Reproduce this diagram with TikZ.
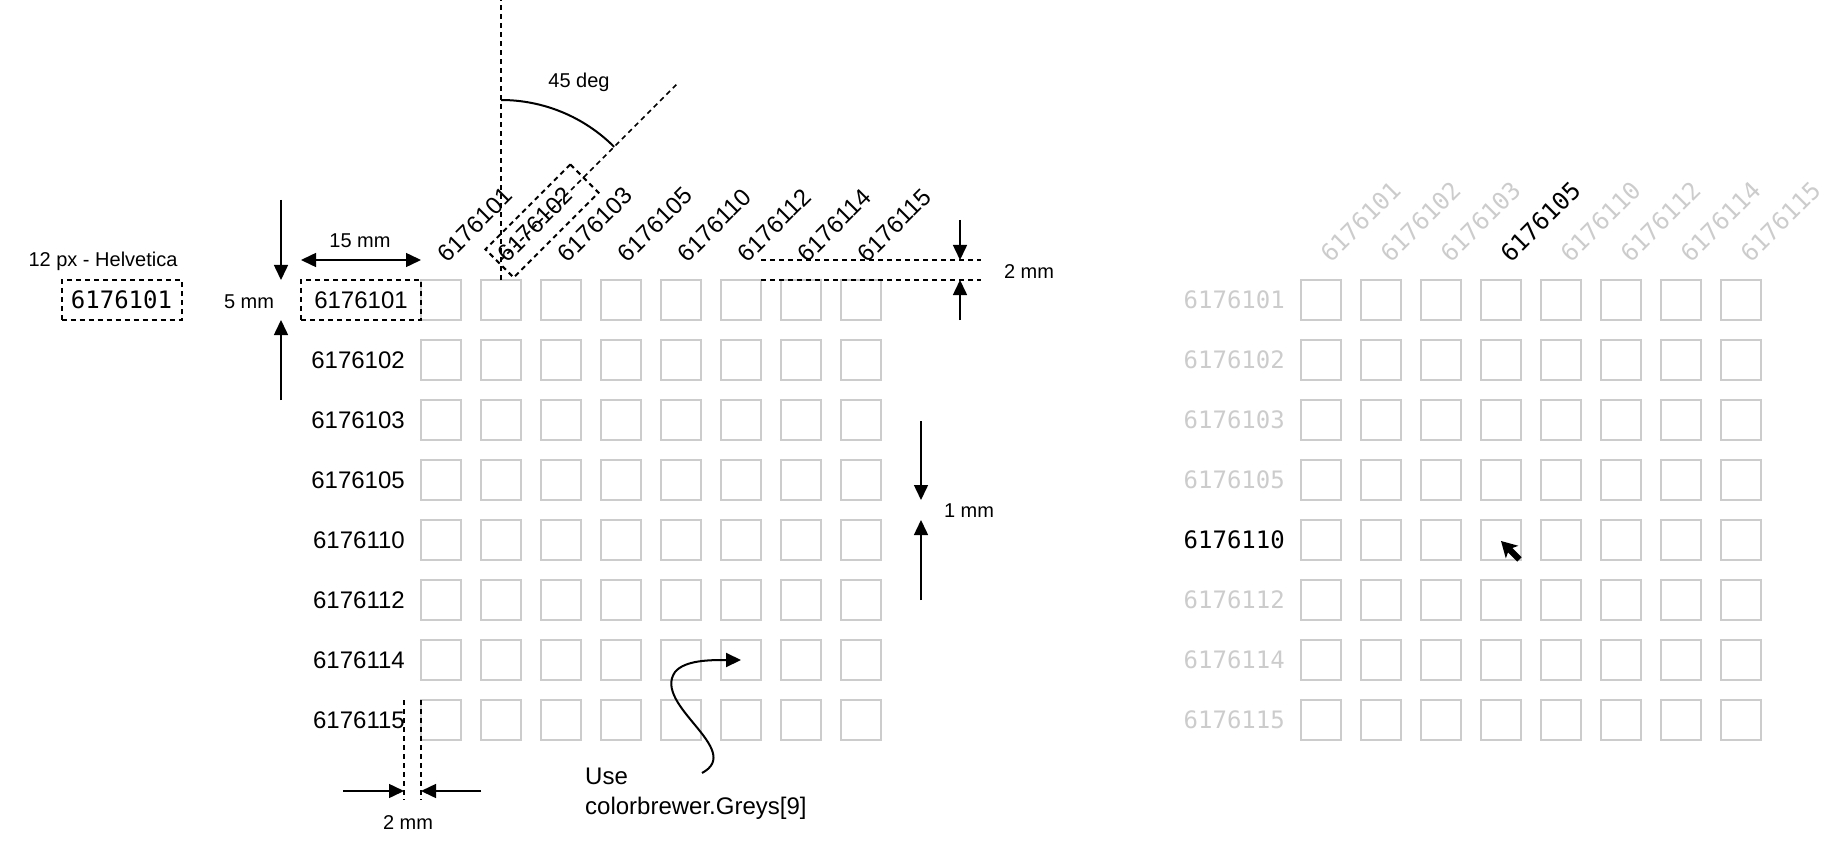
\documentclass[tikz,border=0pt]{standalone}
\usepackage{fontspec}
\setmainfont{Liberation Sans}
\newfontfamily\monofont{DejaVu Sans Mono}
\usetikzlibrary{arrows.meta}
\definecolor{cgris}{RGB}{204,204,204}

\begin{document}
\begin{tikzpicture}[x=1pt, y=-1pt, >={Triangle[length=15pt,width=14pt]},
  cell/.style={draw=cgris, line width=2pt, minimum size=40pt, inner sep=0pt, outer sep=0pt},
  lab/.style={font=\fontsize{24}{30}\selectfont, inner sep=0pt},
  mlab/.style={font=\fontsize{24}{30}\selectfont\monofont, inner sep=0pt},
  note/.style={font=\fontsize{20}{24}\selectfont, inner sep=0pt},
  dim/.style={line width=1.5pt},
  guide/.style={line width=1.5pt, dash pattern=on 5pt off 4pt},
  dbox/.style={draw, line width=2pt, dash pattern=on 5pt off 4pt, minimum width=120pt,
    minimum height=40pt, inner sep=0pt, outer sep=0pt}]
\useasboundingbox (0,0) rectangle (1838,842);

% left grid
\foreach \r in {1,...,8}
  \foreach \c in {1,...,8}
    \node[cell] (a\r\c) at ({441+60*(\c-1)}, {300+60*(\r-1)}) {};
\node[dbox, lab, anchor=east] (row1) at (a11.west) {6176101};
\foreach \lab [count=\r from 2] in {6176102,6176103,6176105,6176110,6176112,6176114,6176115}
  \node[lab, anchor=east] (row\r) at ([xshift=-16pt]a\r1.west) {\lab};
\foreach \lab [count=\c] in {6176101,6176102,6176103,6176105,6176110,6176112,6176114,6176115}
  \node[lab, rotate=45, anchor=south west] (col\c) at ([xshift=7pt,yshift=16pt]a1\c.north) {\lab};
\node[dbox, rotate=45] (pick) at (542,221) {};

% 45 deg
\coordinate (apex) at ([yshift=20pt]a12.north);
\coordinate (vtop) at (a12.north |- 0,0);
\draw[guide] (a12.north) -- (vtop);
\draw[guide] (apex) -- ++(177,-177);
\draw[line width=2pt] (apex) ++(0,-160) arc[start angle=90, end angle=45, radius=160pt];
\node[note] (deg) at (579,82) {45 deg};

% font sample
\node[note, anchor=base] (fname) at (103,267) {12 px - Helvetica};
\node[dbox, mlab] (sample) at (121.5,300) {6176101};

% 5 mm / 15 mm
\coordinate (u5) at (281,200);
\coordinate (d5) at (281,400);
\draw[dim,->] (u5) -- (u5 |- row1.north);
\draw[dim,->] (d5) -- (d5 |- row1.south);
\node[note, anchor=base] (h5) at (249,308) {5 mm};
\draw[dim,<->] ([yshift=20pt]row1.north west) -- ([yshift=20pt]row1.north east);
\node[note, anchor=base] (w15) at (360,248) {15 mm};

% 2 mm top
\coordinate (g1) at ([yshift=20pt]a16.north east);
\coordinate (g2) at (a16.north east);
\draw[guide] (g1) -- ++(220,0);
\draw[guide] (g2) -- ++(220,0);
\coordinate (m1) at (960,220);
\coordinate (m2) at (960,320);
\draw[dim,->] (m1) -- (m1 |- g1);
\draw[dim,->] (m2) -- (m2 |- g2);
\node[note, anchor=base] (gap2) at (1029,278) {2 mm};

% 1 mm
\coordinate (k1) at (921,421);
\coordinate (k2) at (921,600);
\draw[dim,->] (k1) -- (k1 |- a48.south);
\draw[dim,->] (k2) -- (k2 |- a58.north);
\node[note, anchor=base] (gap1) at (969,517) {1 mm};

% 2 mm bottom
\coordinate (e1) at ([xshift=-17pt]a81.north west);
\draw[guide] (e1) -- ++(0,100);
\draw[guide] (a81.north west) -- ++(0,100);
\coordinate (b1) at (343,791);
\coordinate (b2) at (481,791);
\draw[dim,->] (b1) -- (b1 -| e1);
\draw[dim,->] (b2) -- (b2 -| a81.west);
\node[note, anchor=base] (gap3) at (408,829) {2 mm};

% colour hint
\node[lab, anchor=base west, align=left] (hintlab) at (585,814) {Use\\colorbrewer.Greys[9]};
\coordinate (hint) at (702,773);
\draw[line width=2pt,->] (hint) .. controls (745,750) and (652,705) .. (675,672)
  .. controls (685,660) and (710,660) .. (a76.center);

% right grid
\foreach \r in {1,...,8}
  \foreach \c in {1,...,8}
    \node[cell] (b\r\c) at ({1321+60*(\c-1)}, {300+60*(\r-1)}) {};
\foreach \lab [count=\r] in {6176101,6176102,6176103,6176105,6176110,6176112,6176114,6176115}{
  \ifnum\r=5 \def\tc{black}\else\def\tc{cgris}\fi
  \node[mlab, text=\tc, anchor=east] (rr\r) at ([xshift=-16pt]b\r1.west) {\lab};
}
\foreach \lab [count=\c] in {6176101,6176102,6176103,6176105,6176110,6176112,6176114,6176115}{
  \ifnum\c=4 \def\tc{black}\else\def\tc{cgris}\fi
  \node[mlab, text=\tc, rotate=45, anchor=south west] (rc\c) at ([xshift=10pt,yshift=16pt]b1\c.north) {\lab};
}
\coordinate (tip) at (1501,541);
\fill[shift={(tip)}, scale=1.2] (0,0) -- (14.5,4) -- (9.5,5.8) -- (17.2,13.5) -- (13.5,17.2) -- (5.8,9.5) -- (4,14.5) -- cycle;
\end{tikzpicture}
\end{document}
